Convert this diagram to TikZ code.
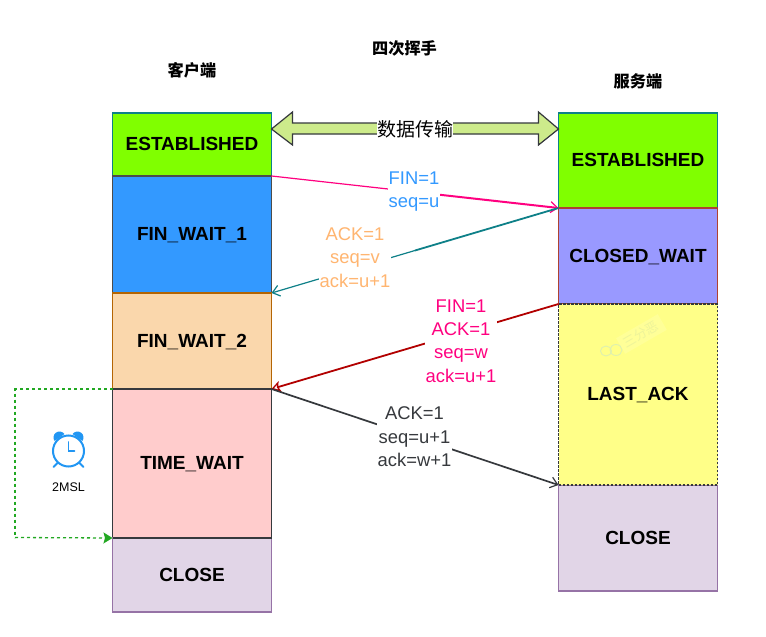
\documentclass[tikz,border=0pt]{standalone}
\usepackage{fontspec}
\setmainfont{Liberation Sans}
\newfontfamily\cjkfont{Noto Sans CJK SC}
\usetikzlibrary{arrows.meta,calc}
\definecolor{cgreen}{HTML}{80FF00}
\definecolor{cteal}{HTML}{0E8088}
\definecolor{cblue}{HTML}{3399FF}
\definecolor{cpeach}{HTML}{FAD7AC}
\definecolor{cpeachd}{HTML}{B46504}
\definecolor{cpink}{HTML}{FFCCCC}
\definecolor{cdark}{HTML}{36393D}
\definecolor{cpurple}{HTML}{E1D5E7}
\definecolor{cpurpled}{HTML}{9673A6}
\definecolor{cviolet}{HTML}{9999FF}
\definecolor{cbrick}{HTML}{AE4132}
\definecolor{cyellow}{HTML}{FFFF88}
\definecolor{clime}{HTML}{CDEB8B}
\definecolor{cmag}{HTML}{FF0080}
\definecolor{corange}{HTML}{FFB570}
\definecolor{cred}{HTML}{B20000}
\definecolor{cgr}{HTML}{22A822}
\definecolor{cclock}{HTML}{2196F3}
\definecolor{wmbox}{HTML}{FFFF98}
\definecolor{wmtext}{HTML}{EEF49A}
\definecolor{wmicon}{HTML}{DDF0B0}
\tikzset{
  stbox/.style={draw,line width=1.2pt,inner sep=0pt,outer sep=0pt,minimum width=159pt,
    text height=13.5pt,text depth=1pt,
    font=\fontsize{19}{22}\selectfont\bfseries},
  msg/.style={fill=white,inner sep=1pt,align=center,font=\fontsize{18.4}{23.4}\selectfont},
  cjktitle/.style={font=\cjkfont\fontsize{16.2}{18}\selectfont\bfseries},
  openhead/.style={-{Straight Barb[length=7pt,width=11pt,line width=1.2pt]}},
  trihead/.style={-{Stealth[open,length=9pt,width=11pt,inset=2pt,line width=1.3pt]}},
}
\begin{document}
\begin{tikzpicture}[x=1pt,y=-1pt]
\useasboundingbox (0,0) rectangle (766,637);
\fill[white] (0,0) rectangle (766,637);

% titles
\node[cjktitle] (title) at (404.5,48.5) {四次挥手};
\node[cjktitle] (client) at (192,70) {客户端};
\node[cjktitle] (server) at (638,81) {服务端};

% left column
\node[stbox,fill=cgreen,draw=cteal,minimum height=63pt] (le) at (192,144.5) {ESTABLISHED};
\node[stbox,fill=cblue,draw=black!70,minimum height=117pt] (lf1) at (192,234.5) {FIN\_WAIT\_1};
\node[stbox,fill=cpeach,draw=cpeachd,minimum height=96pt] (lf2) at (192,341) {FIN\_WAIT\_2};
\node[stbox,fill=cpink,draw=cdark,minimum height=149pt] (lt) at (192,463.5) {TIME\_WAIT};
\node[stbox,fill=cpurple,draw=cpurpled,minimum height=74pt] (lc) at (192,575) {CLOSE};
\draw[cdark,line width=1.2pt] (lt.north west) -- (lt.north east);
\draw[cdark,line width=1.2pt] (lt.south west) -- (lt.south east);

% right column
\node[stbox,fill=cgreen,draw=cteal,minimum height=95pt] (re) at (638,160.5) {ESTABLISHED};
\node[stbox,fill=cviolet,draw=cbrick,minimum height=96pt] (rw) at (638,256) {CLOSED\_WAIT};
\node[stbox,fill=cpurple,draw=cpurpled,minimum height=106pt] (rc) at (638,538) {CLOSE};
\node[stbox,fill=cyellow,draw=cdark,dashed,dash pattern=on 2.5pt off 1.5pt,minimum height=181pt] (rl) at (638,394.5) {LAST\_ACK};

% watermark
\begin{scope}[shift={(612,351)},rotate=30]
  \fill[wmbox] (10,-9) rectangle (58,9);
  \node[transform shape,inner sep=0pt,text=wmtext,font=\cjkfont\fontsize{13}{15}\selectfont] (wm) at (33,0) {三分恶};
\end{scope}
\draw[wmicon,line width=0.9pt] (606,351) ellipse (5.5pt and 5pt);
\draw[wmicon,line width=0.9pt] (616,350) ellipse (6pt and 5.5pt);

% data transfer arrow
\coordinate (dl) at (le.east |- 0,129);
\coordinate (dr) at (re.west |- 0,129);
\draw[fill=clime,draw=cdark,line width=1.2pt]
  (dl) -- ++(21,-17) -- ++(0,11) -- ($(dr)+(-20,-6)$) -- ++(0,-11) -- (dr)
  -- ++(-20,16) -- ++(0,-11) -- ($(dl)+(21,5)$) -- ++(0,11) -- cycle;
\node[msg,inner sep=0pt,font=\cjkfont\fontsize{19}{22}\selectfont] (data) at (415,129) {数据传输};

% message lines (labels sit on top with a white fill)
\draw[cmag,line width=1.2pt] (lf1.north east) -- ($(lf1.north east)!0.5!(rw.north west)$);
\draw[cmag,line width=2pt,openhead] ($(lf1.north east)!0.5!(rw.north west)$) -- (rw.north west);
\draw[cteal,line width=1.8pt] (rw.north west) -- ($(rw.north west)!0.5!(lf2.north east)$);
\draw[cteal,line width=1.2pt,openhead] ($(rw.north west)!0.5!(lf2.north east)$) -- (lf2.north east);
\draw[cred,line width=1.8pt,trihead] (rw.south west) -- (lf2.south east);
\draw[cdark,line width=1.7pt,openhead] (lt.north east) -- (rl.south west);

\node[msg,text=cblue] (m1) at (414,191.5) {FIN=1\\seq=u};
\node[msg,text=corange] (m2) at (355,257.5) {ACK=1\\seq=v\\ack=u+1};
\node[msg,text=cmag] (m3) at (461,341) {FIN=1\\ACK=1\\seq=w\\ack=u+1};
\node[msg,text=cdark] (m4) at (414.5,437) {ACK=1\\seq=u+1\\ack=w+1};

% 2MSL loop
\coordinate (lp1) at (15,389);
\coordinate (lp2) at (15,537.5);
\draw[cgr,line width=1.3pt,dash pattern=on 3pt off 3pt] (lt.north west) -- (lp1) -- (lp2);
\draw[cgr,line width=1.3pt,dash pattern=on 3pt off 3pt,-{Stealth[length=9pt,width=11pt,inset=1.5pt]}] (lp2) -- (lc.north west);

% clock icon
\coordinate (ck) at (68.5,451);
\draw[cclock,line width=2pt] (ck) circle (15.5pt);
\draw[cclock,line width=1.8pt,line cap=round] ($(ck)+(0,-9)$) -- (ck) -- ($(ck)+(6,0)$);
\fill[cclock,shift={($(ck)+(-9,-13.5)$)},rotate=35] (-6,0) arc[start angle=180,end angle=0,radius=6pt] -- cycle;
\fill[cclock,shift={($(ck)+(9,-13.5)$)},rotate=-35] (-6,0) arc[start angle=180,end angle=0,radius=6pt] -- cycle;
\draw[cclock,line width=2pt,line cap=round] ($(ck)+(-11,12)$) -- ($(ck)+(-15,16)$);
\draw[cclock,line width=2pt,line cap=round] ($(ck)+(11,12)$) -- ($(ck)+(15,16)$);
\node[inner sep=0pt,font=\fontsize{12.5}{15}\selectfont] (msl) at (68.5,487) {2MSL};
\end{tikzpicture}
\end{document}
